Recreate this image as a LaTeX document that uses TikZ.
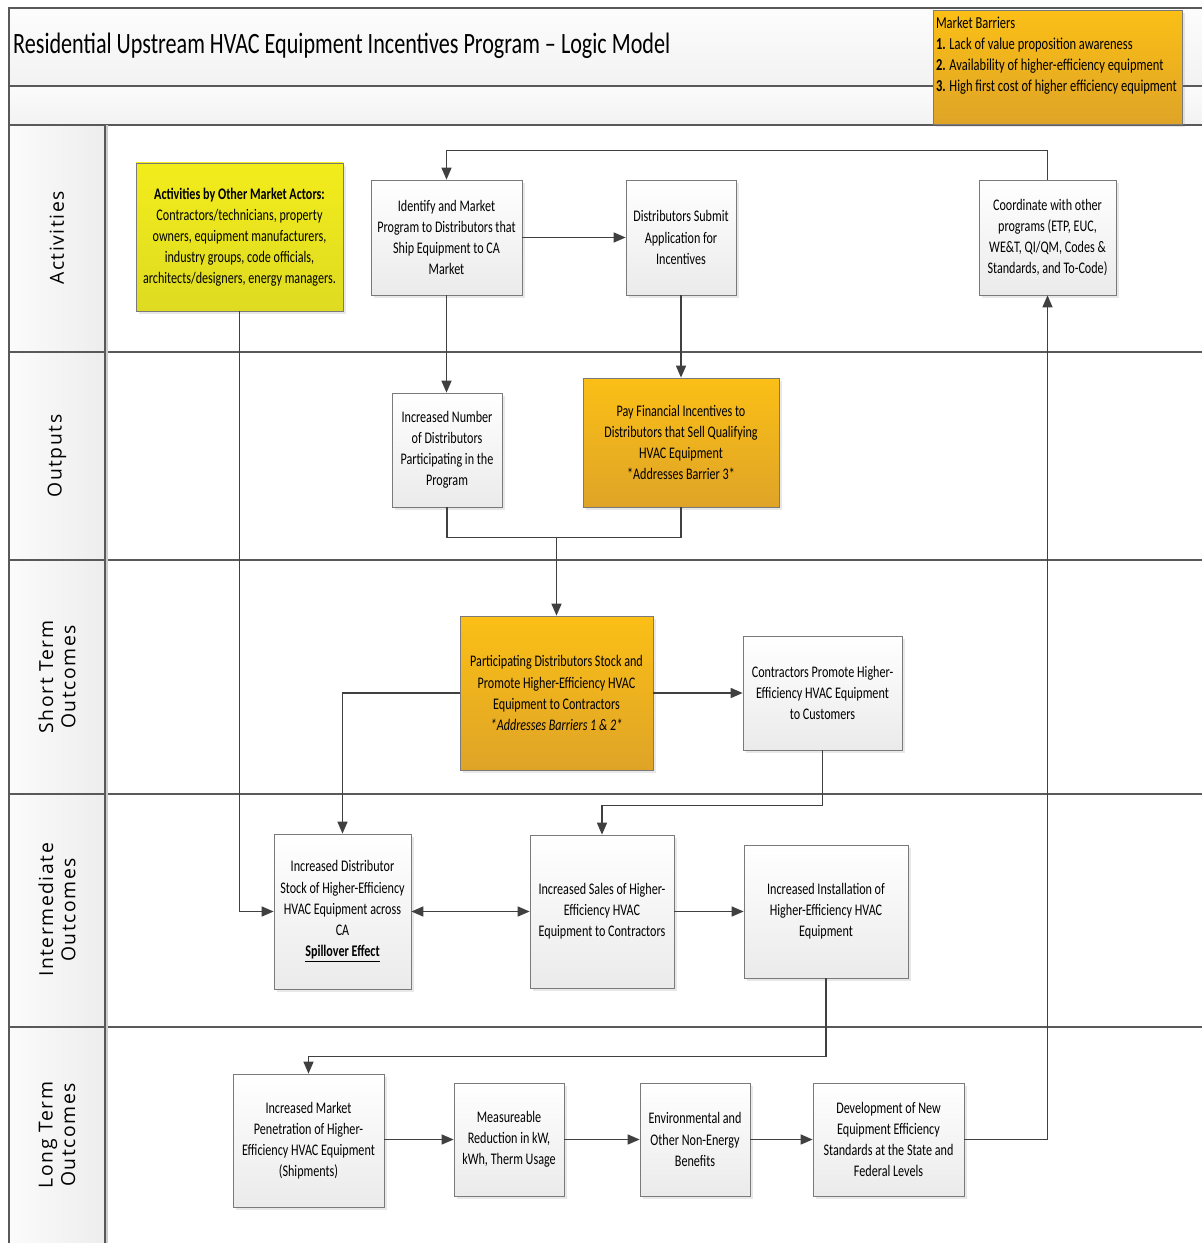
\documentclass[tikz,border=0pt]{standalone}
\usepackage{fontspec}
\setmainfont{Carlito}[FakeStretch=0.75]
\newfontfamily\lanefont{Open Sans}[LetterSpace=8]
\usepackage{tikz}
\usetikzlibrary{arrows.meta,positioning,shadows}

\definecolor{linegray}{HTML}{404040}
\definecolor{boxline}{HTML}{7A7A7A}
\definecolor{orangetop}{HTML}{FBBF16}
\definecolor{orangebot}{HTML}{DFA427}
\definecolor{yellowtop}{HTML}{F3EC1B}
\definecolor{yellowbot}{HTML}{DEDB22}

\begin{document}
\begin{tikzpicture}[
    x=0.02cm, y=-0.02cm,
    wh/.style 2 args={minimum width=#1*0.02cm, minimum height=#2*0.02cm},
    box/.style={rectangle, draw=boxline, top color=white, bottom color=gray!16, inner sep=2pt, align=center,
        font=\fontsize{9.2}{12}\selectfont, drop shadow={shadow xshift=1.5pt, shadow yshift=-1.5pt, opacity=0.18}},
    hot/.style={box, top color=orangetop, bottom color=orangebot},
    actor/.style={box, top color=yellowtop, bottom color=yellowbot},
    lane/.style={rotate=90, align=center, font=\lanefont\fontsize{11}{12.8}\selectfont},
    frame/.style={draw=gray!70!black, line width=0.8pt},
    arrow/.style={-{Triangle[length=0.24cm,width=0.2cm]}, draw=linegray, line width=0.85pt},
    line/.style={draw=linegray, line width=0.85pt}
]
    \useasboundingbox (0,0) rectangle (1202,1243);

    % Title bands and lane column
    \fill[top color=gray!2, bottom color=gray!10] (9,8) rectangle (1202,86);
    \fill[top color=gray!3, bottom color=gray!10] (9,86) rectangle (1202,125);
    \fill[left color=gray!3, right color=gray!14] (9,125) rectangle (105,1243);
    \draw[frame] (1202,8) -- (9,8) -- (9,1243);
    \draw[frame] (9,86) -- (1202,86);
    \draw[frame] (9,125) -- (1202,125);
    \foreach \y in {352,560,794,1027}
        \draw[frame] (9,\y) -- (1202,\y);
    \draw[frame] (105,125) -- (105,1243);
    \draw[gray!40, line width=0.6pt] (107,125) -- (107,1243);

    \node[anchor=west, font=\fontsize{16.8}{19}\selectfont] (title) at (7,46)
        {Residential Upstream HVAC Equipment Incentives Program -- Logic Model};

    % Market barriers
    \node[hot, wh={249}{114}, anchor=north west] (barriers) at (933,10) {};
    \node[anchor=north west, align=left, inner sep=0pt, font=\fontsize{9.5}{11.9}\selectfont] (barriertxt)
        at ([xshift=1.5pt,yshift=-4pt]barriers.north west)
        {Market Barriers\\\textbf{1.} Lack of value proposition awareness\\\textbf{2.} Availability of higher-efficiency equipment\\\textbf{3.} High first cost of higher efficiency equipment};

    % Lane labels
    \node[lane] (lact) at (57,238) {Activities};
    \node[lane] (lout) at (57,456) {Outputs};
    \node[lane] (lshort) at (57,677) {Short Term\\Outcomes};
    \node[lane] (linter) at (57,910) {Intermediate\\Outcomes};
    \node[lane] (llong) at (57,1135) {Long Term\\Outcomes};

    % Activities
    \node[actor, wh={207}{148}] (actors) at (239.5,237)
        {\textbf{Activities by Other Market Actors:}\\Contractors/technicians, property\\owners, equipment manufacturers,\\industry groups, code officials,\\architects/designers, energy managers.};
    \node[box, wh={151}{115}] (ident) at (446.5,237.5)
        {Identify and Market\\Program to Distributors that\\Ship Equipment to CA\\Market};
    \node[box, wh={110}{115}] (submit) at (681,237.5)
        {Distributors Submit\\Application for\\Incentives};
    \node[box, wh={137}{115}] (coord) at (1047.5,237.5)
        {Coordinate with other\\programs (ETP, EUC,\\WE\&T, QI/QM, Codes \&\\Standards, and To-Code)};

    % Outputs
    \node[box, wh={110}{114}] (incnum) at (447,450)
        {Increased Number\\of Distributors\\Participating in the\\Program};
    \node[hot, wh={196}{129}] (pay) at (681,442.5)
        {Pay Financial Incentives to\\Distributors that Sell Qualifying\\HVAC Equipment\\*Addresses Barrier 3*};

    % Short term outcomes
    \node[hot, wh={193}{154}] (partic) at (556.5,693)
        {Participating Distributors Stock and\\Promote Higher-Efficiency HVAC\\Equipment to Contractors\\\textit{*Addresses Barriers 1 \& 2*}};
    \node[box, wh={159}{114}] (contr) at (822.5,693)
        {Contractors Promote Higher-\\Efficiency HVAC Equipment\\to Customers};

    % Intermediate outcomes
    \node[box, wh={137}{155}] (stock) at (342.5,911.5)
        {Increased Distributor\\Stock of Higher-Efficiency\\HVAC Equipment across\\CA\\\textbf{\underline{Spillover Effect}}};
    \node[box, wh={144}{153}] (sales) at (602,911.5)
        {Increased Sales of Higher-\\Efficiency HVAC\\Equipment to Contractors};
    \node[box, wh={164}{133}] (install) at (826,911.5)
        {Increased Installation of\\Higher-Efficiency HVAC\\Equipment};

    % Long term outcomes
    \node[box, wh={151}{133}] (penet) at (308.5,1140.5)
        {Increased Market\\Penetration of Higher-\\Efficiency HVAC Equipment\\(Shipments)};
    \node[box, wh={110}{113}] (measure) at (509,1139.5)
        {Measureable\\Reduction in kW,\\kWh, Therm Usage};
    \node[box, wh={110}{113}] (enviro) at (695,1139.5)
        {Environmental and\\Other Non-Energy\\Benefits};
    \node[box, wh={151}{113}] (develop) at (888.5,1139.5)
        {Development of New\\Equipment Efficiency\\Standards at the State and\\Federal Levels};

    \coordinate (join) at (556.5,537);

    % Arrows
    \draw[arrow] (coord.north) -- ++(0,-29) -| (ident.north);
    \draw[arrow] (ident) -- (submit);
    \draw[arrow] (ident.south) -- (ident.south |- incnum.north);
    \draw[arrow] (submit) -- (pay);
    \draw[line] (incnum.south) -- ++(0,30) -| (pay.south);
    \draw[arrow] (join) -- (partic.north);
    \draw[arrow] (actors.south) |- (stock.west);
    \draw[arrow] (partic.west) -| (stock.north);
    \draw[arrow] (partic) -- (contr);
    \draw[arrow] (contr.south) -- ++(0,55) -| (sales.north);
    \draw[arrow, {Triangle[length=0.24cm,width=0.2cm]}-{Triangle[length=0.24cm,width=0.2cm]}] (stock) -- (sales);
    \draw[arrow] (sales) -- (install);
    \draw[arrow] (install.south) -- ++(0,78) -| (penet.north);
    \draw[arrow] (penet.east |- measure.west) -- (measure.west);
    \draw[arrow] (measure) -- (enviro);
    \draw[arrow] (enviro) -- (develop);
    \draw[arrow] (develop.east) -| (coord.south);
\end{tikzpicture}
\end{document}
